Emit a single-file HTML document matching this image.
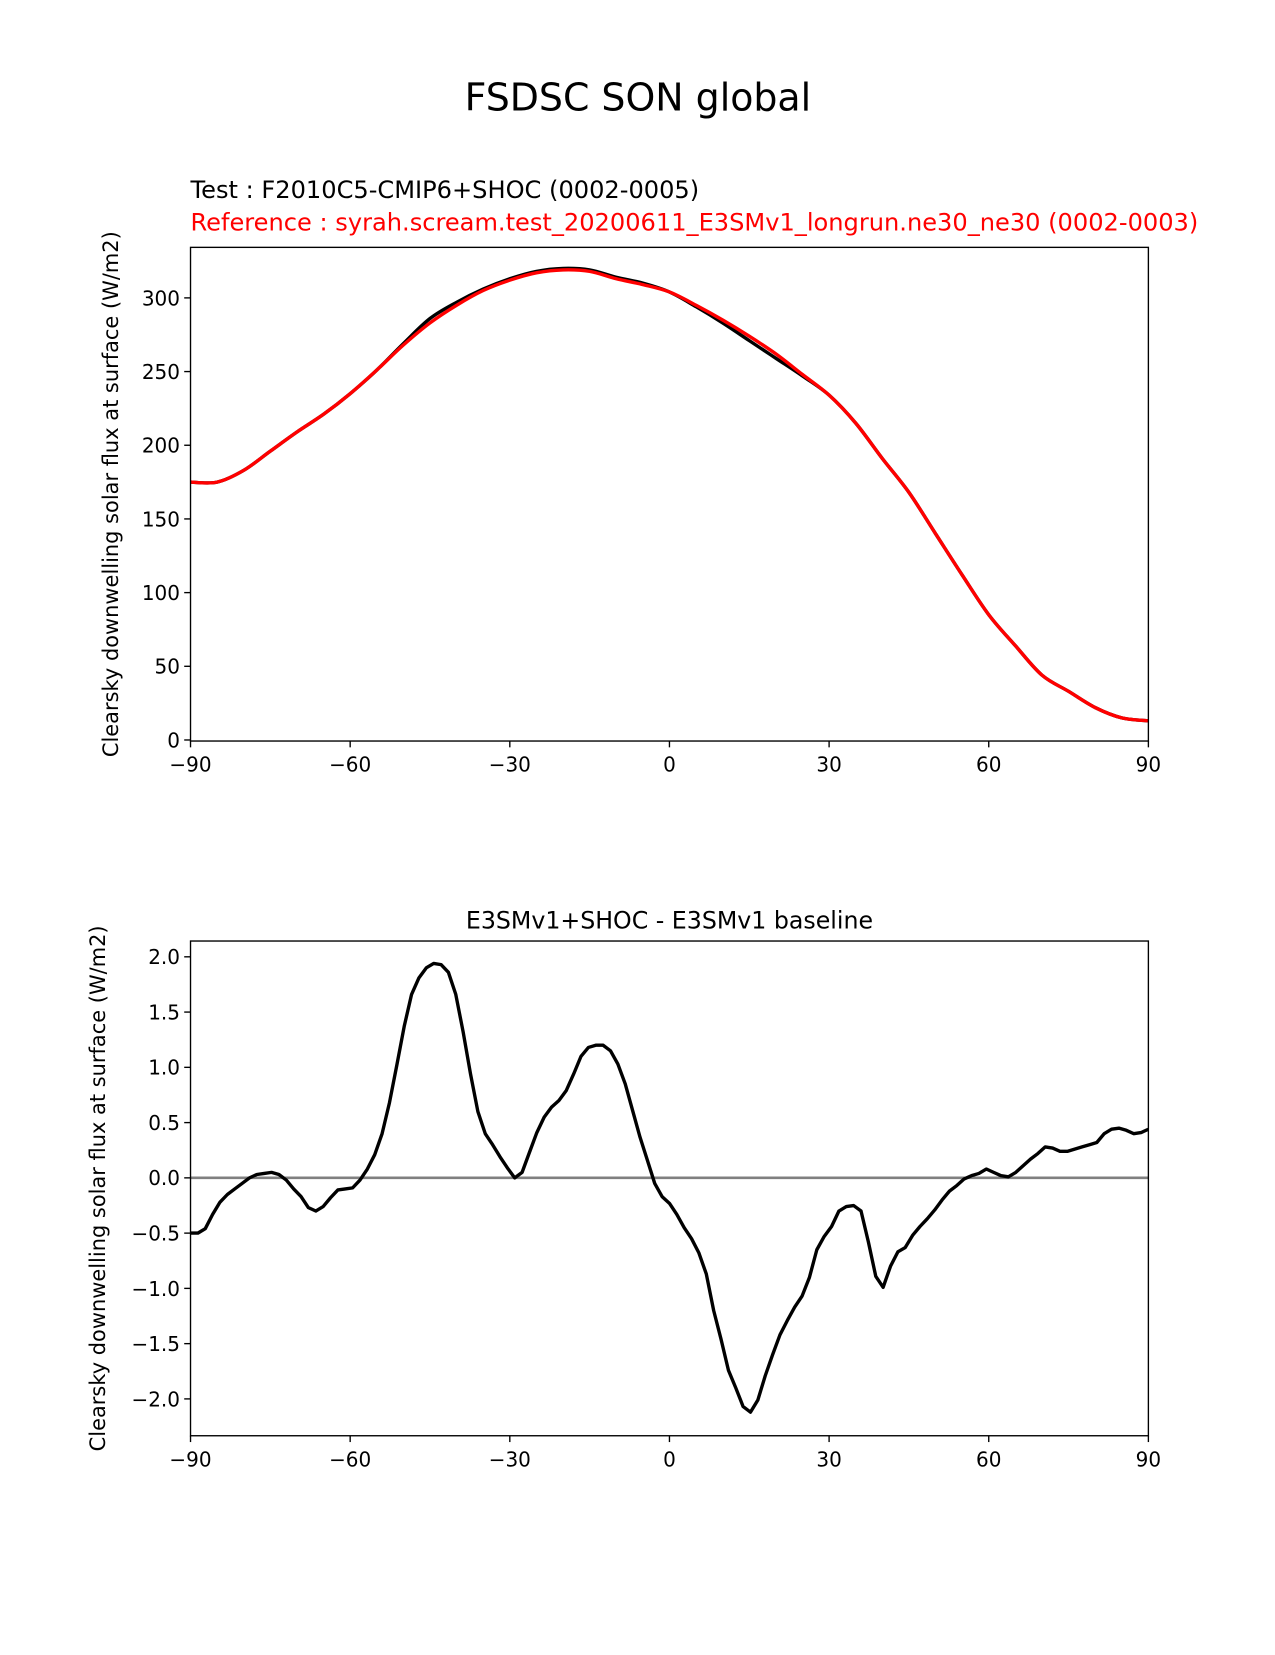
<!DOCTYPE html>
<html><head><meta charset="utf-8"><style>
body{margin:0;background:#fff;}
svg text{font-family:"DejaVu Sans","Liberation Sans",sans-serif;}
</style></head><body>
<svg id="c" width="1275" height="1650" viewBox="0 0 1275 1650" xmlns="http://www.w3.org/2000/svg">
<rect width="1275" height="1650" fill="#fff"/>
<g transform="scale(1.0526)">
<text x="606" y="105" font-size="36" text-anchor="middle">FSDSC SON global</text>
<text x="181" y="188" font-size="22.9">Test : F2010C5-CMIP6+SHOC (0002-0005)</text>
<text x="181" y="219" font-size="22.9" fill="#ff0000">Reference : syrah.scream.test_20200611_E3SMv1_longrun.ne30_ne30 (0002-0003)</text>
<text x="636" y="882" font-size="22.5" text-anchor="middle">E3SMv1+SHOC - E3SMv1 baseline</text>
<g id="top"></g>
<g id="bot"></g>
</g>
</svg>
<script>
const topLats=[-90,-85,-80,-75,-70,-65,-60,-55,-50,-45,-40,-35,-30,-25,-20,-15,-10,-5,0,5,10,15,20,25,30,35,40,45,50,55,60,65,70,75,80,85,90];
const refVals=[175,175,183,196,209,221,235,251,268,283,295,305,312,317,319,318,313,309,304,295,285,274,262,248,234,215,191,168,140,112,85,64,44,33,22,15,13];
const testVals=[175,175,183,196,209,221,235,251,269,286,297,306,313,318,320,319,314,310,304,294,283,271,259,247,234,215,191,168,140,112,85,64,44,33,22,15,13];
const diffVals=[-0.50,-0.50,-0.46,-0.33,-0.22,-0.15,-0.10,-0.05,0,0.03,0.04,0.05,0.03,-0.02,-0.10,-0.17,-0.27,-0.30,-0.26,-0.18,-0.11,-0.10,-0.09,-0.02,0.08,0.21,0.40,0.68,1.02,1.37,1.66,1.81,1.90,1.94,1.93,1.86,1.66,1.32,0.94,0.60,0.40,0.30,0.19,0.09,0.0,0.05,0.23,0.41,0.55,0.64,0.70,0.79,0.94,1.10,1.18,1.20,1.20,1.15,1.03,0.85,0.61,0.37,0.16,-0.05,-0.17,-0.23,-0.33,-0.45,-0.55,-0.68,-0.87,-1.20,-1.46,-1.74,-1.90,-2.07,-2.12,-2.01,-1.79,-1.60,-1.42,-1.29,-1.17,-1.07,-0.90,-0.65,-0.53,-0.44,-0.30,-0.26,-0.25,-0.30,-0.58,-0.89,-0.99,-0.80,-0.67,-0.63,-0.52,-0.44,-0.37,-0.29,-0.20,-0.12,-0.07,-0.01,0.02,0.04,0.08,0.05,0.02,0.01,0.05,0.11,0.17,0.22,0.28,0.27,0.24,0.24,0.26,0.28,0.30,0.32,0.40,0.44,0.45,0.43,0.40,0.41,0.44];
const xTicks=[-90,-60,-30,0,30,60,90];
const topYTicks=[0,50,100,150,200,250,300];
const botYTicks=[-2.0,-1.5,-1.0,-0.5,0.0,0.5,1.0,1.5,2.0];

const NS="http://www.w3.org/2000/svg";
function mk(p,t,a){const e=document.createElementNS(NS,t);for(const k in a)e.setAttribute(k,a[k]);p.appendChild(e);return e;}
const X0=181,X1=1091;
const sx=v=>X0+(v+90)/180*(X1-X0);
function smooth(pts){let d="M"+pts[0][0]+","+pts[0][1];for(let i=0;i<pts.length-1;i++){const p0=pts[Math.max(0,i-1)],p1=pts[i],p2=pts[i+1],p3=pts[Math.min(pts.length-1,i+2)];d+=" C"+(p1[0]+(p2[0]-p0[0])/6)+","+(p1[1]+(p2[1]-p0[1])/6)+" "+(p2[0]-(p3[0]-p1[0])/6)+","+(p2[1]-(p3[1]-p1[1])/6)+" "+p2[0]+","+p2[1];}return d;}
function axes(g,Y0,Y1,sy,yt,fmt,ylabel,labelX){
  let e;
  for(const t of xTicks){
    e=mk(g,"line",{x1:sx(t),x2:sx(t),y1:Y1,y2:Y1+6,stroke:"#000","stroke-width":1.3});
    
    
    e=mk(g,"text",{x:sx(t),y:Y1+29,"font-size":19,"text-anchor":"middle"});e.textContent=(t<0?"\u2212"+(-t):t);
    
    
  }
  for(const t of yt){
    e=mk(g,"line",{x1:X0-6,x2:X0,y1:sy(t),y2:sy(t),stroke:"#000","stroke-width":1.3});
    
    
    e=mk(g,"text",{x:X0-10,y:sy(t)+7,"font-size":19,"text-anchor":"end"});e.textContent=fmt(t);
    
    
  }
  e=mk(g,"text",{x:labelX,y:(Y0+Y1)/2,"font-size":19.9,"text-anchor":"middle",transform:`rotate(-90 ${labelX} ${(Y0+Y1)/2})`});e.textContent=ylabel;
  
  
}
const YL="Clearsky downwelling solar flux at surface (W/m2)";
(function(){
  const g=document.getElementById('top');const Y0=235,Y1=704;
  const sy=v=>703-v*1.4;
  let e;
  e=mk(g,"path",{d:smooth(topLats.map((l,i)=>[sx(l),sy(testVals[i])])),fill:"none",stroke:"#000","stroke-width":3.2});
  
  
  e=mk(g,"path",{d:smooth(topLats.map((l,i)=>[sx(l),sy(refVals[i])])),fill:"none",stroke:"#ff0000","stroke-width":3.2});
  
  
  e=mk(g,"rect",{x:X0,y:Y0,width:X1-X0,height:Y1-Y0,fill:"none",stroke:"#000","stroke-width":1.3});
  
  
  axes(g,Y0,Y1,sy,topYTicks,t=>t,YL,112);
})();
(function(){
  const g=document.getElementById('bot');const Y0=894,Y1=1364;
  const sy=v=>1119-v*105;
  let e;
  e=mk(g,"line",{x1:X0,x2:X1,y1:sy(0),y2:sy(0),stroke:"#808080","stroke-width":2.5});
  
  
  const n=diffVals.length;
  const pts=diffVals.map((v,i)=>sx(-90+180*i/(n-1)).toFixed(1)+","+sy(v).toFixed(1));
  e=mk(g,"polyline",{points:pts.join(" "),fill:"none",stroke:"#000","stroke-width":3.2,"stroke-linejoin":"round"});
  
  
  e=mk(g,"rect",{x:X0,y:Y0,width:X1-X0,height:Y1-Y0,fill:"none",stroke:"#000","stroke-width":1.3});
  
  
  axes(g,Y0,Y1,sy,botYTicks,t=>(t<0?"\u2212":"")+Math.abs(t).toFixed(1),YL,100);
})();
</script>
</body></html>
